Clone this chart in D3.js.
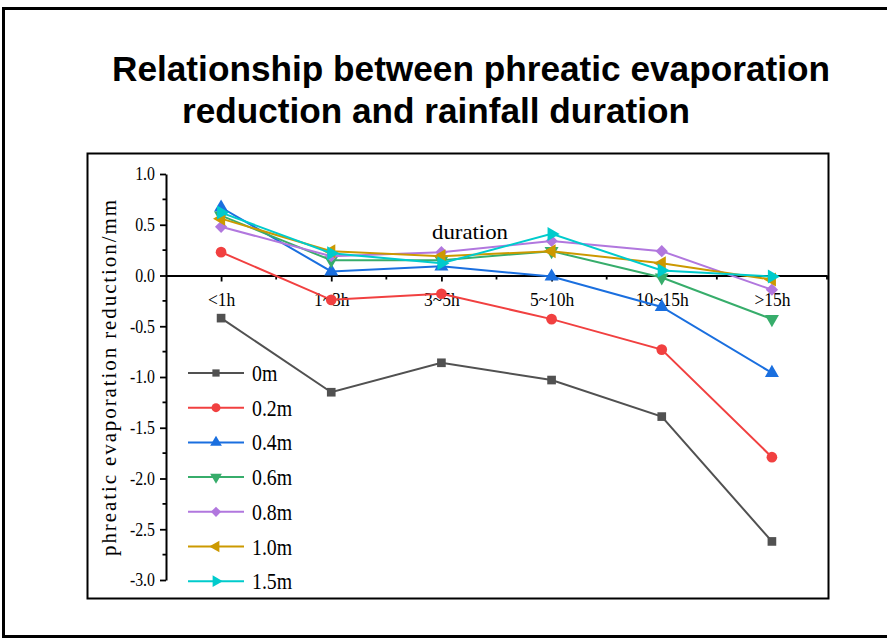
<!DOCTYPE html>
<html>
<head>
<meta charset="utf-8">
<script src="https://cdn.jsdelivr.net/npm/d3@7"></script>
<style>
  html, body { margin: 0; padding: 0; background: #fff; }
  svg { display: block; }
</style>
</head>
<body>
<svg id="chart" width="887" height="640"></svg>
<script>
// Rainfall duration classes (x categories)
const durations = ["<1h", "1~3h", "3~5h", "5~10h", "10~15h", ">15h"];

// Groundwater depth series names
const depths = ["0m", "0.2m", "0.4m", "0.6m", "0.8m", "1.0m", "1.5m"];

// Phreatic evaporation reduction (mm) per depth, one value per duration class
const depth0m  = [-0.42, -1.15, -0.86, -1.03, -1.39, -2.62];
const depth02m = [ 0.23, -0.24, -0.18, -0.43, -0.73, -1.79];
const depth04m = [ 0.67,  0.04,  0.09, -0.01, -0.31, -0.96];
const depth06m = [ 0.59,  0.15,  0.15,  0.24, -0.02, -0.43];
const depth08m = [ 0.48,  0.19,  0.23,  0.34,  0.24, -0.14];
const depth10m = [ 0.56,  0.24,  0.19,  0.24,  0.12, -0.04];
const depth15m = [ 0.62,  0.22,  0.12,  0.41,  0.05, -0.01];

// Y axis tick labels
const yTicks = [1.0, 0.5, 0.0, -0.5, -1.0, -1.5, -2.0, -2.5, -3.0];

const seriesValues = [depth0m, depth02m, depth04m, depth06m, depth08m, depth10m, depth15m];
const colors = ["#515151", "#F14040", "#1A6FDF", "#37AD6B", "#B177DE", "#CC9900", "#00CBCC"];
// marker: symbol type and rotation
const markers = [
  {type: d3.symbolSquare,   rot: 0,   size: 75},
  {type: d3.symbolCircle,   rot: 0,   size: 90},
  {type: d3.symbolTriangle, rot: 0,   size: 85},
  {type: d3.symbolTriangle, rot: 180, size: 85},
  {type: d3.symbolSquare,   rot: 45,  size: 75},
  {type: d3.symbolTriangle, rot: -90, size: 85},
  {type: d3.symbolTriangle, rot: 90,  size: 85}
];

const svg = d3.select("#chart");
const serif = "'Liberation Serif', 'DejaVu Serif', serif";

// squeeze serif labels horizontally for a tall, narrow look
function condense(sel, k) {
  sel.each(function () {
    const len = this.getComputedTextLength();
    d3.select(this).attr("textLength", len * k).attr("lengthAdjust", "spacingAndGlyphs");
  });
}

// outer frame
svg.append("rect")
  .attr("x", 3.5).attr("y", 8.5).attr("width", 900).attr("height", 628)
  .attr("fill", "none").attr("stroke", "#000").attr("stroke-width", 3);

// title
const title = svg.append("g")
  .attr("font-family", "'Liberation Sans', Arial, sans-serif")
  .attr("font-weight", "bold").attr("font-size", 35).attr("fill", "#000");
title.append("text").attr("x", 112).attr("y", 81)
  .attr("textLength", 718).attr("lengthAdjust", "spacingAndGlyphs")
  .text("Relationship between phreatic evaporation");
title.append("text").attr("x", 182).attr("y", 123)
  .attr("textLength", 508).attr("lengthAdjust", "spacingAndGlyphs")
  .text("reduction and rainfall duration");

// plot frame
svg.append("rect")
  .attr("x", 87.5).attr("y", 153.5).attr("width", 741).attr("height", 445)
  .attr("fill", "none").attr("stroke", "#000").attr("stroke-width", 2);

// scales
const x = d3.scaleLinear().domain([-0.5, 5.5]).range([166, 827]);
const y = d3.scaleLinear().domain([-3, 1]).range([580, 174]);

// y axis
const yAxis = svg.append("g").attr("transform", `translate(${x(-0.5)},0)`);
yAxis.call(d3.axisLeft(y).tickValues(yTicks).tickFormat(d3.format(".1f"))
  .tickSize(6).tickSizeOuter(0).tickPadding(5));
yAxis.call(g => g.select(".domain").attr("stroke-width", 2));
yAxis.selectAll(".tick line").attr("stroke-width", 1.8);
yAxis.selectAll(".tick text")
  .attr("font-family", serif).attr("font-size", 18).attr("fill", "#000")
  .text(d => (d < 0 ? "-" : "") + Math.abs(d).toFixed(1))
  .call(condense, 0.88);
// y minor ticks
const yMinor = d3.range(-2.75, 1, 0.5);
svg.append("g").selectAll("line").data(yMinor).join("line")
  .attr("x1", x(-0.5) - 3.5).attr("x2", x(-0.5))
  .attr("y1", d => y(d)).attr("y2", d => y(d))
  .attr("stroke", "#000").attr("stroke-width", 1.8);

// x axis along zero
const xAxis = svg.append("g").attr("transform", `translate(0,${y(0)})`);
xAxis.call(d3.axisBottom(x).tickValues(d3.range(durations.length))
  .tickFormat(i => durations[i]).tickSize(6).tickSizeOuter(0).tickPadding(11));
xAxis.call(g => g.select(".domain").attr("stroke-width", 2));
xAxis.selectAll(".tick line").attr("stroke-width", 1.8);
xAxis.selectAll(".tick text")
  .attr("font-family", serif).attr("font-size", 19).attr("fill", "#000")
  .call(condense, 0.92);
// x minor ticks
svg.append("g").selectAll("line").data(d3.range(0.5, 6, 1)).join("line")
  .attr("x1", d => x(d)).attr("x2", d => x(d))
  .attr("y1", y(0)).attr("y2", y(0) + 4)
  .attr("stroke", "#000").attr("stroke-width", 1.8);

// axis titles
svg.append("text")
  .attr("x", 470).attr("y", 239).attr("text-anchor", "middle")
  .attr("font-family", serif).attr("font-size", 21).attr("fill", "#000")
  .attr("textLength", 76).attr("lengthAdjust", "spacingAndGlyphs")
  .text("duration");
svg.append("text")
  .attr("transform", "translate(116,378) rotate(-90)")
  .attr("text-anchor", "middle")
  .attr("font-family", serif).attr("font-size", 21).attr("fill", "#000")
  .attr("textLength", 356).attr("lengthAdjust", "spacing")
  .text("phreatic evaporation reduction/mm");

// series lines and markers
const line = d3.line().x((d, i) => x(i)).y(d => y(d));
seriesValues.forEach((vals, s) => {
  const g = svg.append("g");
  g.append("path").datum(vals)
    .attr("d", line).attr("fill", "none")
    .attr("stroke", colors[s]).attr("stroke-width", 2);
  g.selectAll("path.m").data(vals).join("path").attr("class", "m")
    .attr("d", d3.symbol().type(markers[s].type).size(markers[s].size))
    .attr("transform", (d, i) => `translate(${x(i)},${y(d)}) rotate(${markers[s].rot})`)
    .attr("fill", colors[s]);
});

// legend
const legend = svg.append("g");
depths.forEach((name, s) => {
  const ly = 373 + s * 34.7;
  legend.append("line")
    .attr("x1", 188).attr("x2", 244).attr("y1", ly).attr("y2", ly)
    .attr("stroke", colors[s]).attr("stroke-width", 2);
  legend.append("path")
    .attr("d", d3.symbol().type(markers[s].type).size(markers[s].size * 0.7))
    .attr("transform", `translate(216,${ly}) rotate(${markers[s].rot})`)
    .attr("fill", colors[s]);
  legend.append("text")
    .attr("x", 252).attr("y", ly + 8)
    .attr("font-family", serif).attr("font-size", 23).attr("fill", "#000")
    .text(name)
    .call(condense, 0.86);
});
</script>
</body>
</html>
